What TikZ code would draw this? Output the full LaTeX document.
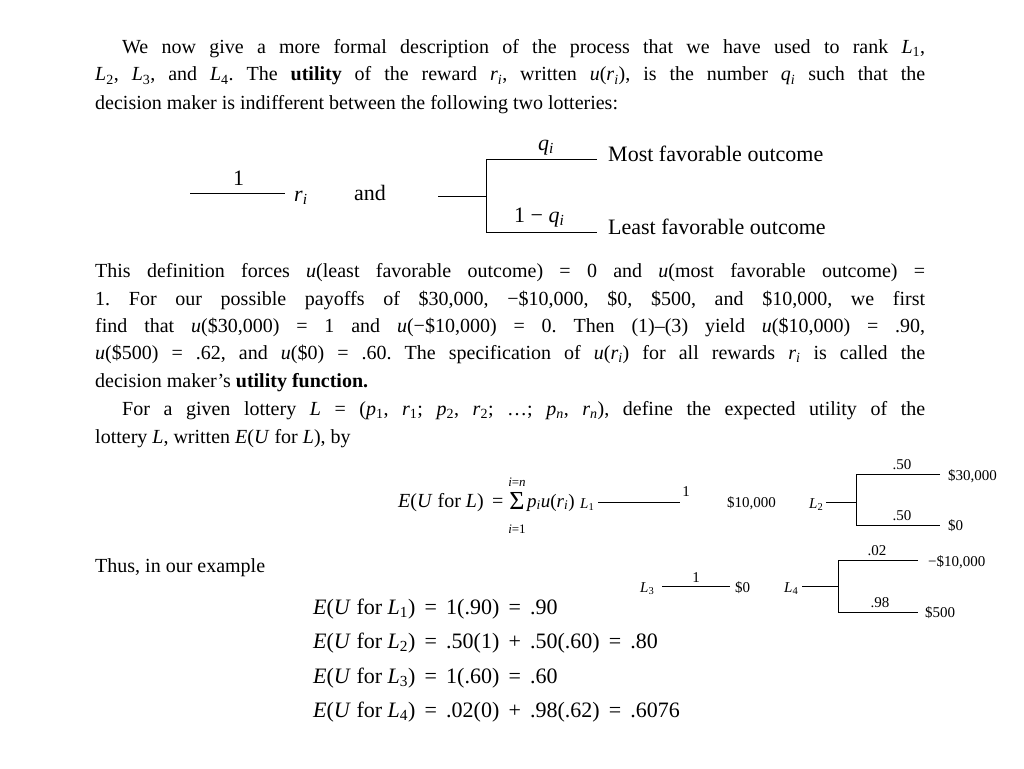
\documentclass[tikz,border=0pt]{standalone}
\usepackage{fontspec}
\setmainfont{Liberation Serif}
\newfontfamily\wide{Liberation Serif}
\newcommand{\jl}[1]{\hbox to 830pt{#1}}
\newcommand{\jlb}[1]{\hbox to 803pt{#1}}
\newcommand{\iv}[2]{\textit{#1}\textsubscript{\textit{#2}}}
\newcommand{\ie}[2]{\textit{#1}\textsubscript{#2}}
\newcommand{\eqs}{\ \,=\ \,}
\begin{document}
\frenchspacing
\begin{tikzpicture}[x=1pt,y=-1pt,
 t/.style={inner sep=0pt,anchor=base west,font=\fontsize{20}{24}\selectfont},
 w/.style={inner sep=0pt,anchor=base west,font=\wide\fontsize{22}{24}\selectfont},
 s/.style={inner sep=0pt,anchor=base west,font=\fontsize{15}{16}\selectfont},
 sc/.style={inner sep=0pt,anchor=base,font=\fontsize{15}{16}\selectfont},
 ln/.style={line width=0.8pt}]
\useasboundingbox (0,0) rectangle (1024,768);
% paragraph 1
\node[t] (p1a) at (122,53) {\jlb{We now give a more formal description of the process that we have used to rank \ie{L}{1},}};
\node[t] (p1b) at (95,81) {\jl{\ie{L}{2}, \ie{L}{3}, and \ie{L}{4}. The \textbf{utility} of the reward \iv{r}{i}, written \textit{u}(\iv{r}{i}), is the number \iv{q}{i} such that the}};
\node[t] (p1c) at (95,109) {decision maker is indifferent between the following two lotteries:};
% lotteries
\coordinate (a1) at (190,193); \coordinate (a2) at (285,193);
\draw[ln] (a1) -- (a2);
\node[w] (one) at (233,185) {1};
\node[w] (ri) at (294,201) {\iv{r}{i}};
\node[w] (and) at (354,200) {and};
\coordinate (b0) at (438,196); \coordinate (b1) at (486,196);
\coordinate (bt) at (486,159); \coordinate (bb) at (486,232);
\coordinate (bte) at (597,159); \coordinate (bbe) at (597,232);
\draw[ln] (b0) -- (b1); \draw[ln] (bte) -- (bt) -- (bb) -- (bbe);
\node[w] (qi) at (538,150) {\iv{q}{i}};
\node[w] (qn) at (514,222) {1 − \iv{q}{i}};
\node[w] (mfo) at (608,161) {Most favorable outcome};
\node[w] (lfo) at (608,234) {Least favorable outcome};
% paragraph 2
\node[t] (p2a) at (95,277) {\jl{This definition forces \textit{u}(least favorable outcome) = 0 and \textit{u}(most favorable outcome) =}};
\node[t] (p2b) at (95,305) {\jl{1. For our possible payoffs of \$30,000, −\$10,000, \$0, \$500, and \$10,000, we first}};
\node[t] (p2c) at (95,332) {\jl{find that \textit{u}(\$30,000) = 1 and \textit{u}(−\$10,000) = 0. Then (1)--(3) yield \textit{u}(\$10,000) = .90,}};
\node[t] (p2d) at (95,359) {\jl{\textit{u}(\$500) = .62, and \textit{u}(\$0) = .60. The specification of \textit{u}(\iv{r}{i}) for all rewards \iv{r}{i} is called the}};
\node[t] (p2e) at (95,387) {decision maker's \textbf{utility function.}};
\node[t] (p3a) at (122,415) {\jlb{For a given lottery \textit{L} = (\ie{p}{1}, \ie{r}{1}; \ie{p}{2}, \ie{r}{2}; \ldots; \iv{p}{n}, \iv{r}{n}), define the expected utility of the}};
\node[t] (p3b) at (95,443) {lottery \textit{L}, written \textit{E}(\textit{U} for \textit{L}), by};
% formula
\node[t] (form) at (398,507) {\textit{E}(\textit{U} for \textit{L})\eqs};
\node[inner sep=0pt,anchor=base,font=\fontsize{26}{26}\selectfont] (sig) at (517,509) {Σ};
\node[inner sep=0pt,anchor=base,font=\fontsize{13}{13}\selectfont] (sup) at (517,486) {\textit{i}=\textit{n}};
\node[inner sep=0pt,anchor=base,font=\fontsize{13}{13}\selectfont] (sub) at (517,533) {\textit{i}=1};
\node[inner sep=0pt,anchor=base west,font=\fontsize{19}{22}\selectfont] (pu) at (527,507) {\iv{p}{i}\textit{u}(\iv{r}{i})};
\node[s] (L1) at (580,508) {\ie{L}{1}};
\coordinate (c1) at (598,502); \coordinate (c2) at (680,502);
\draw[ln] (c1) -- (c2);
\node[sc] (c1p) at (686,496) {1};
\node[s] (c1v) at (727,507) {\$10,000};
\node[s] (L2) at (809,508) {\ie{L}{2}};
\coordinate (d0) at (826,502); \coordinate (d1) at (856,502);
\coordinate (dt) at (856,474); \coordinate (db) at (856,525);
\coordinate (dte) at (940,474); \coordinate (dbe) at (940,525);
\draw[ln] (d0) -- (d1); \draw[ln] (dte) -- (dt) -- (db) -- (dbe);
\node[sc] (d1p) at (902,469) {.50};
\node[sc] (d2p) at (902,520) {.50};
\node[s] (d1v) at (948,480) {\$30,000};
\node[s] (d2v) at (948,530) {\$0};
\node[t] (thus) at (95,572) {Thus, in our example};
\node[s] (L3) at (640,592) {\ie{L}{3}};
\coordinate (e1) at (662,586); \coordinate (e2) at (730,586);
\draw[ln] (e1) -- (e2);
\node[sc] (e1p) at (696,582) {1};
\node[s] (e1v) at (735,592) {\$0};
\node[s] (L4) at (784,592) {\ie{L}{4}};
\coordinate (f0) at (802,586); \coordinate (f1) at (838,586);
\coordinate (ft) at (838,560); \coordinate (fb) at (838,612);
\coordinate (fte) at (918,560); \coordinate (fbe) at (918,612);
\draw[ln] (f0) -- (f1); \draw[ln] (fte) -- (ft) -- (fb) -- (fbe);
\node[sc] (f1p) at (877,555) {.02};
\node[sc] (f2p) at (880,607) {.98};
\node[s] (f1v) at (928,566) {−\$10,000};
\node[s] (f2v) at (925,617) {\$500};
% equations
\node[w] (eq1) at (313,614) {\textit{E}(\textit{U} for \ie{L}{1})\eqs 1(.90)\eqs .90};
\node[w] (eq2) at (313,648) {\textit{E}(\textit{U} for \ie{L}{2})\eqs .50(1) \,+\, .50(.60)\eqs .80};
\node[w] (eq3) at (313,683) {\textit{E}(\textit{U} for \ie{L}{3})\eqs 1(.60)\eqs .60};
\node[w] (eq4) at (313,717) {\textit{E}(\textit{U} for \ie{L}{4})\eqs .02(0) \,+\, .98(.62)\eqs .6076};
\end{tikzpicture}
\end{document}
